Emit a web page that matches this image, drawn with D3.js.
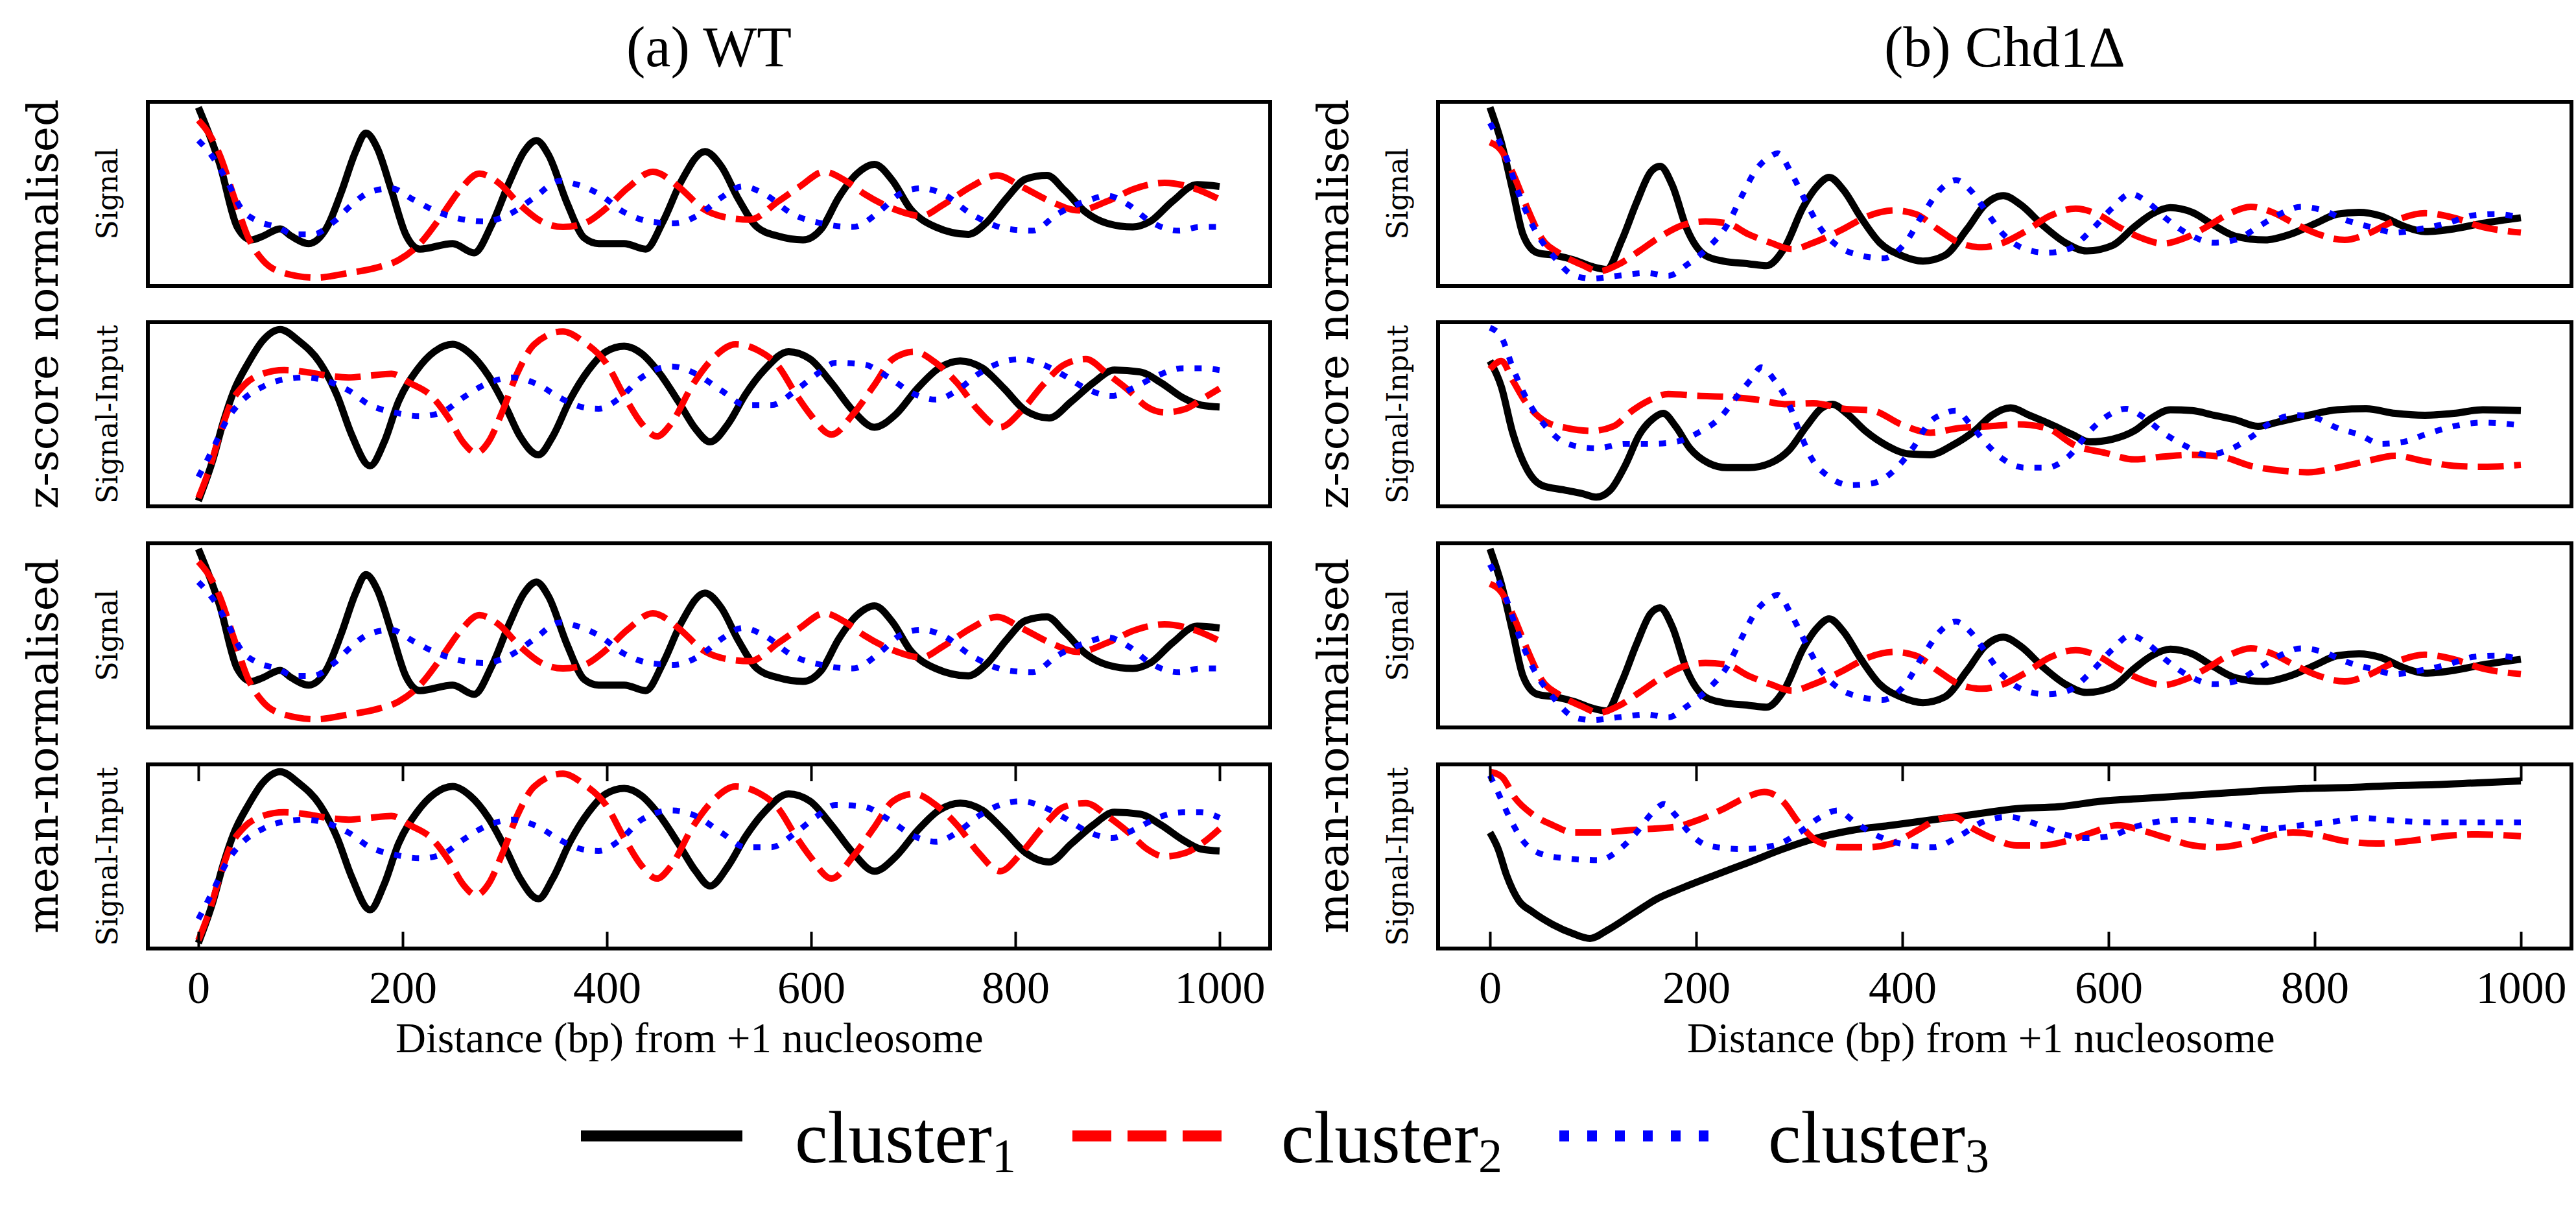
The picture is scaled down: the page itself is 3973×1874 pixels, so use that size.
<!DOCTYPE html>
<html>
<head>
<meta charset="utf-8">
<script src="https://cdn.jsdelivr.net/npm/d3@7"></script>
<style>
  body { margin: 0; background: #fff; }
</style>
</head>
<body>
<svg id="chart"></svg>
<script>
// values: [distance bp, level 0..100 of panel height]

// (a) WT, z-score normalised, Signal
var wtZSigC1 = [[0,97],[21,66],[38,32],[52,25],[63,27],[80,31],[91,27],[108,23],[126,32],[140,51],[154,73],[164,83],[175,75],[189,52],[203,28],[217,20],[249,23],[270,18],[287,33],[305,57],[319,73],[331,79],[343,71],[361,45],[378,26],[392,23],[417,23],[438,20],[455,35],[473,57],[496,73],[512,65],[529,47],[547,32],[568,27],[592,25],[610,31],[627,48],[645,61],[662,66],[680,57],[697,42],[722,32],[754,28],[771,34],[792,48],[810,58],[831,60],[848,52],[869,40],[890,34],[915,32],[932,35],[954,46],[978,55],[1000,54]];
var wtZSigC2 = [[0,90],[10,83],[21,71],[35,48],[49,26],[63,14],[84,7],[115,4.5],[147,7],[175,10],[196,14],[217,23],[238,38],[256,52],[275,61],[294,56],[315,44],[336,35],[357,32],[378,34],[399,42],[420,53],[445,62],[470,54],[494,42],[519,37],[540,36],[568,46],[589,54],[613,62],[634,57],[652,50],[680,42],[708,38],[729,44],[757,54],[782,60],[806,54],[834,46],[862,41],[890,46],[918,53],[946,56],[975,53],[1000,47]];
var wtZSigC3 = [[0,79],[14,70],[28,57],[42,42],[59,35],[77,32],[94,28],[112,28],[133,35],[150,44],[168,51],[189,53],[210,47],[231,41],[252,37],[280,35],[308,40],[329,48],[354,57],[371,55],[392,50],[417,40],[442,35],[466,34],[491,39],[512,48],[533,54],[554,50],[582,39],[610,34],[641,32],[666,40],[687,50],[708,53],[729,50],[757,39],[792,31],[817,30],[841,39],[869,46],[890,49],[911,44],[932,35],[960,30],[981,32],[1000,32]];

// (a) WT, z-score normalised, Signal-Input
var wtZInC1 = [[0,3],[14,25],[24,45],[35,63],[49,78],[63,90],[80,96],[98,90],[119,78],[136,60],[150,39],[168,22],[182,35],[196,57],[214,74],[231,84],[249,88],[266,83],[284,71],[301,54],[315,38],[333,28],[347,38],[364,58],[382,74],[399,84],[417,87],[434,83],[452,72],[470,57],[487,42],[501,35],[519,45],[536,61],[554,74],[578,84],[599,80],[620,67],[641,52],[662,43],[683,50],[704,64],[725,75],[746,79],[768,75],[789,64],[810,52],[833,48],[855,57],[876,67],[897,74],[922,73],[943,67],[964,59],[982,55],[1000,54]];
var wtZInC2 = [[0,4.5],[10,19],[21,39],[31,55],[45,66],[63,72],[84,74],[105,73],[126,71],[147,70],[168,71],[189,72],[207,67],[228,60],[245,48],[259,35],[272,29],[284,35],[298,52],[312,72],[329,88],[357,95],[378,89],[399,78],[417,60],[434,45],[449,38],[463,45],[484,66],[505,81],[526,88],[547,85],[568,76],[585,61],[599,50],[620,39],[641,50],[662,66],[680,80],[701,84],[722,78],[743,67],[764,52],[785,43],[806,52],[827,66],[848,77],[869,80],[890,72],[911,63],[929,54],[946,51],[967,53],[985,59],[1000,64]];
var wtZInC3 = [[0,16],[14,31],[28,47],[42,57],[63,65],[84,69],[105,70],[126,68],[147,63],[168,55],[192,51],[217,49],[238,51],[259,59],[280,66],[308,70],[333,66],[354,59],[375,54],[392,53],[413,59],[434,70],[463,76],[487,72],[512,63],[536,55],[561,55],[585,63],[606,72],[624,78],[652,77],[676,70],[701,61],[722,58],[743,63],[764,72],[785,78],[806,80],[827,77],[848,71],[869,64],[894,60],[918,65],[939,71],[964,75],[982,75],[1000,74]];

// (a) WT, mean-normalised, Signal
var wtMSigC1 = [[0,97],[21,66],[38,32],[52,25],[63,27],[80,31],[91,27],[108,23],[126,32],[140,51],[154,73],[164,83],[175,75],[189,52],[203,28],[217,20],[249,23],[270,18],[287,33],[305,57],[319,73],[331,79],[343,71],[361,45],[378,26],[392,23],[417,23],[438,20],[455,35],[473,57],[496,73],[512,65],[529,47],[547,32],[568,27],[592,25],[610,31],[627,48],[645,61],[662,66],[680,57],[697,42],[722,32],[754,28],[771,34],[792,48],[810,58],[831,60],[848,52],[869,40],[890,34],[915,32],[932,35],[954,46],[978,55],[1000,54]];
var wtMSigC2 = [[0,90],[10,83],[21,71],[35,48],[49,26],[63,14],[84,7],[115,4.5],[147,7],[175,10],[196,14],[217,23],[238,38],[256,52],[275,61],[294,56],[315,44],[336,35],[357,32],[378,34],[399,42],[420,53],[445,62],[470,54],[494,42],[519,37],[540,36],[568,46],[589,54],[613,62],[634,57],[652,50],[680,42],[708,38],[729,44],[757,54],[782,60],[806,54],[834,46],[862,41],[890,46],[918,53],[946,56],[975,53],[1000,47]];
var wtMSigC3 = [[0,79],[14,70],[28,57],[42,42],[59,35],[77,32],[94,28],[112,28],[133,35],[150,44],[168,51],[189,53],[210,47],[231,41],[252,37],[280,35],[308,40],[329,48],[354,57],[371,55],[392,50],[417,40],[442,35],[466,34],[491,39],[512,48],[533,54],[554,50],[582,39],[610,34],[641,32],[666,40],[687,50],[708,53],[729,50],[757,39],[792,31],[817,30],[841,39],[869,46],[890,49],[911,44],[932,35],[960,30],[981,32],[1000,32]];

// (a) WT, mean-normalised, Signal-Input
var wtMInC1 = [[0,3],[14,25],[24,45],[35,63],[49,78],[63,90],[80,96],[98,90],[119,78],[136,60],[150,39],[168,21],[182,35],[196,57],[214,74],[231,84],[249,88],[266,83],[284,71],[301,54],[315,38],[333,27],[347,38],[364,58],[382,74],[399,84],[417,87],[434,83],[452,72],[470,57],[487,42],[501,34],[519,45],[536,61],[554,74],[578,84],[599,80],[620,67],[641,52],[662,42],[683,50],[704,64],[725,75],[746,79],[768,75],[789,64],[810,52],[833,47],[855,57],[876,67],[897,74],[922,73],[943,67],[964,59],[982,54],[1000,53]];
var wtMInC2 = [[0,4.5],[10,19],[21,39],[31,55],[45,66],[63,72],[84,74],[105,73],[126,71],[147,70],[168,71],[189,72],[207,67],[228,60],[245,48],[259,35],[272,29],[284,35],[298,52],[312,72],[329,88],[357,95],[378,89],[399,78],[417,60],[434,45],[449,38],[463,45],[484,66],[505,81],[526,88],[547,85],[568,76],[585,61],[599,50],[620,38],[641,50],[662,66],[680,80],[701,84],[722,78],[743,67],[764,52],[785,42],[806,52],[827,66],[848,77],[869,79],[890,72],[911,63],[929,54],[946,50],[967,52],[985,58],[1000,65]];
var wtMInC3 = [[0,16],[14,31],[28,47],[42,57],[63,65],[84,69],[105,70],[126,68],[147,63],[168,55],[192,51],[217,49],[238,51],[259,59],[280,66],[308,70],[333,66],[354,59],[375,54],[392,53],[413,59],[434,70],[463,75],[487,72],[512,63],[536,55],[561,55],[585,63],[606,72],[624,78],[652,77],[676,70],[701,61],[722,58],[743,63],[764,72],[785,78],[806,80],[827,77],[848,71],[869,64],[894,60],[918,65],[939,71],[964,74],[982,74],[1000,71]];

// (b) Chd1 deletion, z-score normalised, Signal
var chZSigC1 = [[0,97],[11,78],[22,52],[32,28],[46,18],[64,16.5],[82,14],[99,10.5],[113,9],[128,25],[142,45],[156,62],[165,65],[177,54.5],[191,31],[209,16.5],[226,13.5],[251,12],[268,11],[286,21],[304,43],[318,54.5],[329,59],[343,52],[360,37],[378,23.5],[399,16.5],[420,13.5],[441,16.5],[463,31],[480,44],[498,49],[515,44],[536,33],[558,23.5],[579,19],[604,22],[625,32],[642,39],[660,42.5],[681,40],[702,33],[723,27],[752,25],[776,28],[801,34],[822,39],[843,40],[864,38],[886,32.5],[907,29.5],[935,31],[963,34],[1000,37]];
var chZSigC2 = [[0,78],[11,73.5],[22,61.5],[36,42.5],[50,26],[68,17.5],[89,11.5],[106,8],[124,11.5],[145,19],[166,27],[187,33],[209,35],[230,34],[251,28],[272,23.5],[293,20],[314,23.5],[343,31],[367,38],[392,41],[413,39],[434,31],[455,23.5],[477,21],[498,23.5],[519,29.5],[543,38],[568,42],[589,39],[610,32],[632,26],[653,23],[674,26],[695,32],[716,39],[738,43],[759,40],[780,34],[804,28],[829,25],[850,28],[878,35.5],[907,39.5],[935,37],[963,32],[1000,29]];
var chZSigC3 = [[0,88.5],[15,71],[29,48.5],[43,31],[61,16.5],[82,5.5],[99,4],[124,5.5],[152,7],[173,5.5],[191,11.5],[212,21],[230,33],[244,48.5],[258,63],[271,70],[279,72],[293,60.5],[307,45],[321,31],[339,21],[360,16.5],[381,15],[403,23.5],[420,39],[438,53],[452,57.5],[466,52],[480,41.5],[498,28],[515,21],[540,18],[561,20],[582,29.5],[604,42.5],[621,50],[639,45],[656,36.5],[678,28],[702,23.5],[723,25],[745,32],[766,39],[787,43],[808,41],[829,36],[854,32],[878,29],[903,31],[928,34],[956,38.5],[977,39],[1000,37]];

// (b) Chd1 deletion, z-score normalised, Signal-Input
var chZInC1 = [[0,79],[11,65],[22,40],[36,20],[50,11.5],[71,9],[89,7],[103,5],[117,9],[131,22],[145,39],[159,48],[168,50.5],[180,43.5],[194,31.5],[212,23.5],[230,21],[251,21],[272,23.5],[290,30.5],[307,43.5],[321,53],[332,55.5],[346,50.5],[364,41],[385,33],[406,28.5],[427,28],[448,33],[470,41],[487,49.5],[505,53.5],[523,49.5],[544,44.5],[565,39],[582,35],[604,36.5],[625,41],[642,48],[660,52.5],[681,52],[702,49.5],[723,47],[745,43.5],[766,46],[794,49.5],[822,52.5],[850,53],[878,50.5],[907,49.5],[935,50.5],[963,52.5],[1000,52]];
var chZInC2 = [[0,74.5],[11,79],[22,68.5],[36,55.5],[54,46],[75,42.5],[99,41],[120,43.5],[138,52],[156,58],[173,61],[202,60],[230,59.5],[258,58],[286,55.5],[314,56],[343,53],[371,52],[399,44.5],[427,40],[455,42.5],[484,43.5],[512,44.5],[540,42.5],[568,33],[597,29],[625,25.5],[653,27],[681,28],[709,27],[738,22],[766,19.5],[794,18.5],[822,21],[850,24.5],[878,27.5],[907,24.5],[935,22],[963,21.5],[1000,22.5]];
var chZInC3 = [[0,97],[11,92],[22,75.5],[36,58],[54,43.5],[75,34],[103,31.5],[131,34],[159,34],[180,35],[202,40],[223,48],[240,60],[254,69.5],[263,75.5],[276,68.5],[290,55.5],[300,41],[311,27],[329,16],[350,11.5],[371,12.5],[392,19.5],[410,31.5],[427,46],[441,50.5],[452,52],[466,44.5],[480,35],[498,25.5],[519,21],[540,21],[561,27],[582,41],[600,49.5],[617,53],[635,48],[653,40],[674,33],[695,28],[716,30.5],[738,37.5],[759,46],[780,49.5],[801,48],[822,42.5],[843,39],[864,34],[886,35],[907,39],[935,43.5],[963,45.5],[1000,44]];

// (b) Chd1 deletion, mean-normalised, Signal
var chMSigC1 = [[0,97],[11,78],[22,52],[32,28],[46,18],[64,16.5],[82,14],[99,10.5],[113,9],[128,25],[142,45],[156,62],[165,65],[177,54.5],[191,31],[209,16.5],[226,13.5],[251,12],[268,11],[286,21],[304,43],[318,54.5],[329,59],[343,52],[360,37],[378,23.5],[399,16.5],[420,13.5],[441,16.5],[463,31],[480,44],[498,49],[515,44],[536,33],[558,23.5],[579,19],[604,22],[625,32],[642,39],[660,42.5],[681,40],[702,33],[723,27],[752,25],[776,28],[801,34],[822,39],[843,40],[864,38],[886,32.5],[907,29.5],[935,31],[963,34],[1000,37]];
var chMSigC2 = [[0,78],[11,73.5],[22,61.5],[36,42.5],[50,26],[68,17.5],[89,11.5],[106,8],[124,11.5],[145,19],[166,27],[187,33],[209,35],[230,34],[251,28],[272,23.5],[293,20],[314,23.5],[343,31],[367,38],[392,41],[413,39],[434,31],[455,23.5],[477,21],[498,23.5],[519,29.5],[543,38],[568,42],[589,39],[610,32],[632,26],[653,23],[674,26],[695,32],[716,39],[738,43],[759,40],[780,34],[804,28],[829,25],[850,28],[878,35.5],[907,39.5],[935,37],[963,32],[1000,29]];
var chMSigC3 = [[0,88.5],[15,71],[29,48.5],[43,31],[61,16.5],[82,5.5],[99,4],[124,5.5],[152,7],[173,5.5],[191,11.5],[212,21],[230,33],[244,48.5],[258,63],[271,70],[279,72],[293,60.5],[307,45],[321,31],[339,21],[360,16.5],[381,15],[403,23.5],[420,39],[438,53],[452,57.5],[466,52],[480,41.5],[498,28],[515,21],[540,18],[561,20],[582,29.5],[604,42.5],[621,50],[639,45],[656,36.5],[678,28],[702,23.5],[723,25],[745,32],[766,39],[787,43],[808,41],[829,36],[854,32],[878,29],[903,31],[928,34],[956,38.5],[977,39],[1000,37]];

// (b) Chd1 deletion, mean-normalised, Signal-Input
var chMInC1 = [[0,63],[8,54],[16,40],[28,26],[41,20],[61,13],[81,8],[97,5.5],[114,10],[138,18.5],[162,27],[187,33],[219,40],[252,47],[284,54],[317,60],[349,64],[390,67],[430,70],[471,73],[511,76],[552,77],[593,80],[633,81.5],[674,83],[714,84.5],[755,86],[795,87],[836,87.5],[877,88.5],[917,89],[958,90],[1000,91]];
var chMInC2 = [[0,96],[12,93],[24,82],[41,73],[61,67],[81,63],[106,63],[130,64],[154,65],[179,66],[203,70],[227,76],[248,82],[266,85],[284,80],[300,68],[317,58.5],[341,55],[365,55],[390,57],[414,64],[434,70],[450,71.5],[466,66],[487,60],[511,56],[536,56],[560,58.5],[584,63],[609,67],[633,64],[657,60],[682,56],[706,55],[731,57],[755,61],[779,63],[804,61.5],[828,58.5],[860,57],[893,58.5],[925,61],[958,62],[1000,61]];
var chMInC3 = [[0,94],[8,84.5],[20,70],[32,58.5],[49,51.5],[73,49],[106,48],[126,54],[142,63],[158,74],[169,78.5],[179,73],[195,62],[211,56],[244,54],[276,56],[300,63],[321,71.5],[337,75],[353,69],[373,62],[398,57],[430,55],[455,61],[479,69],[503,71.5],[528,68],[552,63],[576,60],[601,61],[625,66],[649,69],[674,70],[698,69],[722,67],[755,65],[787,67],[820,69],[844,71],[877,69.5],[917,68.5],[958,68.5],[1000,68.5]];

var xTicks = [0, 200, 400, 600, 800, 1000];
var rowLabels = ["Signal", "Signal-Input", "Signal", "Signal-Input"];
var groupLabels = ["z-score normalised", "mean-normalised"];
var clusterNames = ["cluster", "cluster", "cluster"];
var clusterSubs = ["1", "2", "3"];

var W = 3973, H = 1874;
var serif = "'Liberation Serif', 'Times New Roman', serif";
var labelFont = "'DejaVu Serif', serif";

var styles = [
  { color: "#000000", dash: null, width: 11 },
  { color: "#ff0000", dash: "40,16", width: 10 },
  { color: "#0000ff", dash: "11,17", width: 9 }
];

var columns = [
  { title: "(a) WT", box: [228, 1959], range: [306, 1881],
    panels: [[wtZSigC1, wtZSigC2, wtZSigC3], [wtZInC1, wtZInC2, wtZInC3],
             [wtMSigC1, wtMSigC2, wtMSigC3], [wtMInC1, wtMInC2, wtMInC3]] },
  { title: "(b) Chd1\u0394", box: [2218, 3966], range: [2298, 3888],
    panels: [[chZSigC1, chZSigC2, chZSigC3], [chZInC1, chZInC2, chZInC3],
             [chMSigC1, chMSigC2, chMSigC3], [chMInC1, chMInC2, chMInC3]] }
];

var rowTop = [157, 497, 838, 1179];
var rowH = 284;

var svg = d3.select("#chart").attr("width", W).attr("height", H);
svg.append("rect").attr("width", W).attr("height", H).attr("fill", "#fff");

columns.forEach(function(col) {
  var x = d3.scaleLinear().domain([0, 1000]).range(col.range);
  var boxW = col.box[1] - col.box[0];

  // column title
  svg.append("text")
    .attr("x", (col.box[0] + col.box[1]) / 2).attr("y", 102)
    .attr("text-anchor", "middle")
    .style("font-family", serif).style("font-size", "88px")
    .text(col.title);

  col.panels.forEach(function(series, r) {
    var top = rowTop[r], bottom = top + rowH;
    var y = d3.scaleLinear().domain([0, 100]).range([bottom, top]);
    var g = svg.append("g");

    var line = d3.line()
      .x(function(d) { return x(d[0]); })
      .y(function(d) { return y(d[1]); })
      .curve(d3.curveMonotoneX);

    series.forEach(function(s, i) {
      g.append("path")
        .datum(s)
        .attr("d", line)
        .attr("fill", "none")
        .attr("stroke", styles[i].color)
        .attr("stroke-width", styles[i].width)
        .attr("stroke-dasharray", styles[i].dash)
        .attr("stroke-linejoin", "round");
    });

    g.append("rect")
      .attr("x", col.box[0]).attr("y", top)
      .attr("width", boxW).attr("height", rowH)
      .attr("fill", "none").attr("stroke", "#000").attr("stroke-width", 6);

    // inner row label
    svg.append("text")
      .attr("transform", "translate(" + (col.box[0] - 47) + "," + (top + rowH / 2) + ") rotate(-90)")
      .attr("text-anchor", "middle")
      .style("font-family", labelFont).style("font-size", "44px")
      .text(rowLabels[r]);

    if (r === 3) {
      var ax = g.append("g")
        .attr("transform", "translate(0," + bottom + ")")
        .call(d3.axisBottom(x).tickValues(xTicks).tickSize(-26).tickPadding(34).tickFormat(d3.format("d")));
      ax.select(".domain").remove();
      ax.selectAll("line").attr("stroke-width", 4);
      ax.selectAll("text").style("font-family", serif).style("font-size", "70px").attr("fill", "#000");

      var axTop = g.append("g")
        .attr("transform", "translate(0," + top + ")")
        .call(d3.axisTop(x).tickValues(xTicks).tickSize(-26).tickFormat(""));
      axTop.select(".domain").remove();
      axTop.selectAll("line").attr("stroke-width", 4);

      svg.append("text")
        .attr("x", x(0) + 304).attr("y", 1623)
        .style("font-family", serif).style("font-size", "65px")
        .text("Distance (bp) from +1 nucleosome");
    }
  });

  // group labels spanning two rows
  groupLabels.forEach(function(lbl, k) {
    var t = rowTop[k * 2], b = rowTop[k * 2 + 1] + rowH;
    svg.append("text")
      .attr("transform", "translate(" + (col.box[0] - 139) + "," + ((t + b) / 2) + ") rotate(-90)")
      .attr("text-anchor", "middle")
      .style("font-family", labelFont).style("font-size", "66px")
      .text(lbl);
  });
});

// legend
var legendX = [[896, 1145, 1226], [1654, 1884, 1976], [2405, 2635, 2727]];
var lg = svg.append("g");
legendX.forEach(function(p, i) {
  lg.append("line")
    .attr("x1", p[0]).attr("x2", p[1]).attr("y1", 1752).attr("y2", 1752)
    .attr("stroke", styles[i].color)
    .attr("stroke-width", 17)
    .attr("stroke-dasharray", i === 0 ? null : (i === 1 ? "60,25" : "15,28"));
  var t = lg.append("text")
    .attr("x", p[2]).attr("y", 1793)
    .style("font-family", serif).style("font-size", "114px");
  t.append("tspan").text(clusterNames[i]);
  t.append("tspan").attr("dy", 15).style("font-size", "74px").text(clusterSubs[i]);
});
</script>
</body>
</html>
